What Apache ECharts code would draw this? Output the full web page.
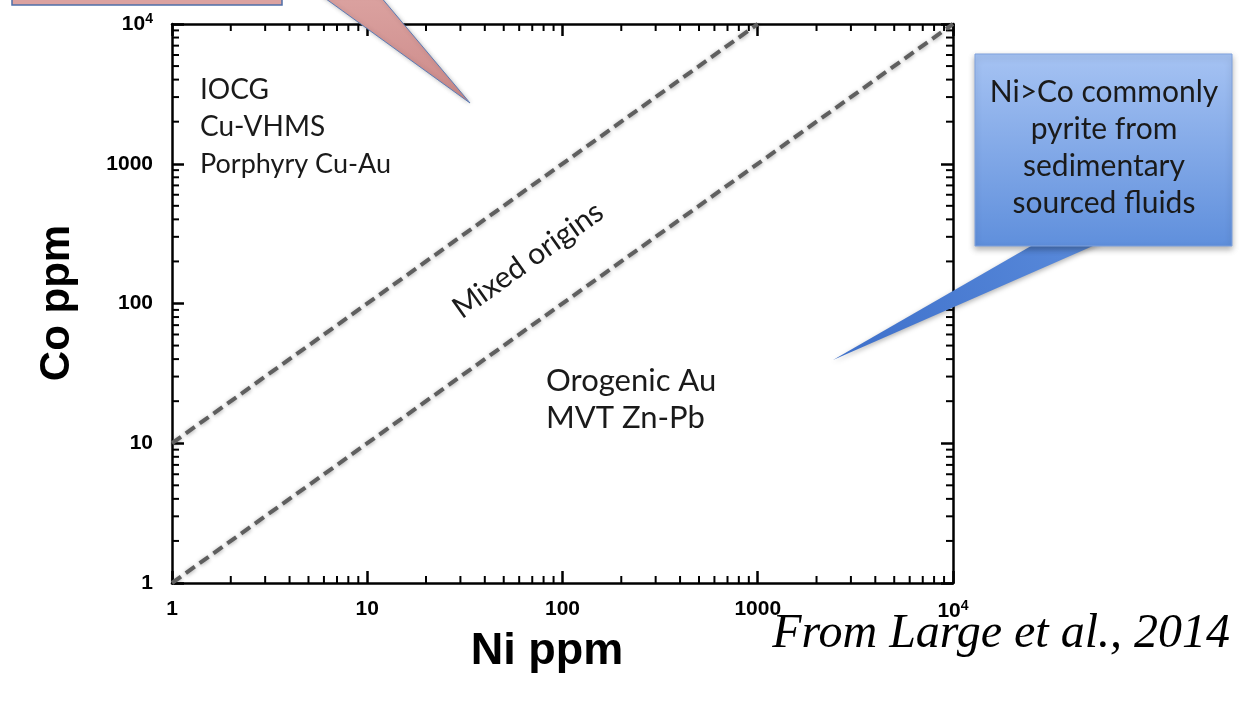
<!DOCTYPE html>
<html>
<head>
<meta charset="utf-8">
<script src="https://cdn.jsdelivr.net/npm/echarts@6/dist/echarts.min.js"></script>
<style>
  html, body { margin: 0; padding: 0; background: #fff; }
  #chart { width: 1243px; height: 703px; }
</style>
</head>
<body>
<div id="chart"></div>
<script>
// boundary lines of the Ni-Co diagram
const upperNi = [1, 1000]
const upperCo = [10, 10000]
const lowerNi = [1, 10000]
const lowerCo = [1, 10000]

// log axes: decades and the minor steps inside each decade
const decades = [1, 10, 100, 1000]
const minorSteps = [2, 3, 4, 5, 6, 7, 8, 9]
const minorTicks = []
decades.forEach(d => minorSteps.forEach(s => minorTicks.push([d * s, d * s])))

const tickFont = 'Liberation Sans, Arial, sans-serif'
const noteFont = 'Lato, Carlito, Calibri, sans-serif'

const chart = echarts.init(document.getElementById('chart'))

const labelFmt = function (v) {
  const n = Math.round(v)
  return n === 10000 ? '{n|10}{s|4}' : '{n|' + n + '}'
}
const labelRich = {
  n: { fontSize: 21, fontWeight: 'bold', fontFamily: tickFont, color: '#000' },
  s: { fontSize: 14, fontWeight: 'bold', fontFamily: tickFont, color: '#000', padding: [0, 0, 10, 0] },
}
const axisBase = {
  type: 'log',
  logBase: 10,
  min: 1,
  max: 10000,
  splitLine: { show: false },
  axisLine: { show: true, onZero: false, lineStyle: { color: '#000', width: 2.5 } },
  axisTick: { show: true, inside: true, length: 12, lineStyle: { color: '#000', width: 2.5 } },
}

const dashStyle = {
  color: '#5f5f5f',
  width: 4,
  type: [11, 6],
  shadowBlur: 4,
  shadowColor: 'rgba(0,0,0,0.35)',
  shadowOffsetY: 1,
}

chart.setOption({
  animation: false,
  backgroundColor: '#fff',
  grid: { left: 172, right: 290, top: 24, bottom: 120 },
  xAxis: [
    Object.assign({}, axisBase, {
      position: 'bottom',
      axisLabel: { margin: 16, fontSize: 21, fontWeight: 'bold', fontFamily: tickFont, color: '#000',
        formatter: labelFmt, rich: labelRich, showMinLabel: true, showMaxLabel: true },
    }),
    Object.assign({}, axisBase, { position: 'top', axisLabel: { show: false } }),
  ],
  yAxis: [
    Object.assign({}, axisBase, {
      position: 'left',
      axisLabel: { margin: 19, fontSize: 21, fontWeight: 'bold', fontFamily: tickFont, color: '#000',
        formatter: labelFmt, rich: labelRich, showMinLabel: true, showMaxLabel: true },
    }),
    Object.assign({}, axisBase, { position: 'right', axisLabel: { show: false } }),
  ],
  series: [
    {
      type: 'line',
      data: upperNi.map((x, i) => [x, upperCo[i]]),
      symbol: 'none',
      lineStyle: dashStyle,
      z: 3,
    },
    {
      type: 'line',
      data: lowerNi.map((x, i) => [x, lowerCo[i]]),
      symbol: 'none',
      lineStyle: dashStyle,
      z: 3,
    },
    {
      // minor ticks on all four sides of the frame
      type: 'custom',
      silent: true,
      clip: false,
      data: minorTicks,
      renderItem: function (params, api) {
        const v = api.value(0)
        const b = api.coord([v, 1])
        const t = api.coord([v, 10000])
        const l = api.coord([1, v])
        const r = api.coord([10000, v])
        const len = 7
        const st = { stroke: '#000', lineWidth: 2 }
        return {
          type: 'group',
          children: [
            { type: 'line', shape: { x1: b[0], y1: b[1], x2: b[0], y2: b[1] - len }, style: st },
            { type: 'line', shape: { x1: t[0], y1: t[1], x2: t[0], y2: t[1] + len }, style: st },
            { type: 'line', shape: { x1: l[0], y1: l[1], x2: l[0] + len, y2: l[1] }, style: st },
            { type: 'line', shape: { x1: r[0], y1: r[1], x2: r[0] - len, y2: r[1] }, style: st },
          ],
        }
      },
    },
  ],
  graphic: [
    // pink callout cut off at the top
    {
      type: 'polygon',
      shape: { points: [[322, -4], [380, -4], [470, 103]] },
      style: {
        fill: new echarts.graphic.LinearGradient(0, 0, 0, 1, [
          { offset: 0, color: '#dba2a0' },
          { offset: 1, color: '#cc8a89' },
        ]),
        stroke: '#5b7bb5',
        lineWidth: 1,
        shadowBlur: 4,
        shadowColor: 'rgba(0,0,0,0.25)',
      },
      z: 10,
    },
    {
      type: 'rect',
      shape: { x: 12, y: -40, width: 270, height: 45 },
      style: { fill: '#dba2a0', stroke: '#4f6fa8', lineWidth: 1.5 },
      z: 11,
    },
    // blue callout on the right
    {
      type: 'polygon',
      shape: { points: [[1038, 242], [1102, 242], [833, 360]] },
      style: {
        fill: new echarts.graphic.LinearGradient(1, 0, 0, 1, [
          { offset: 0, color: '#5a8bdb' },
          { offset: 1, color: '#3d6fca' },
        ]),
        shadowBlur: 5,
        shadowColor: 'rgba(0,0,0,0.3)',
        shadowOffsetY: 2,
      },
      z: 10,
    },
    {
      type: 'rect',
      shape: { x: 975, y: 54, width: 257, height: 192 },
      style: {
        fill: new echarts.graphic.LinearGradient(0, 0, 0, 1, [
          { offset: 0, color: '#a6c3f3' },
          { offset: 1, color: '#5f8fdc' },
        ]),
        stroke: '#7ea1dd',
        lineWidth: 1,
        shadowBlur: 6,
        shadowColor: 'rgba(0,0,0,0.3)',
        shadowOffsetY: 3,
      },
      z: 11,
    },
    {
      type: 'text',
      x: 1104,
      y: 148,
      z: 12,
      style: {
        text: 'Ni>Co commonly\npyrite from\nsedimentary\nsourced fluids',
        font: '30px ' + noteFont,
        fill: '#1a1a1a',
        align: 'center',
        verticalAlign: 'middle',
        lineHeight: 37,
      },
    },
    // field labels
    { type: 'text', x: 200, y: 90, style: { text: 'IOCG', font: '28px ' + noteFont, fill: '#1a1a1a', verticalAlign: 'middle' } },
    { type: 'text', x: 200, y: 127, style: { text: 'Cu-VHMS', font: '28px ' + noteFont, fill: '#1a1a1a', verticalAlign: 'middle' } },
    { type: 'text', x: 200, y: 164, style: { text: 'Porphyry Cu-Au', font: '27px ' + noteFont, fill: '#1a1a1a', verticalAlign: 'middle' } },
    { type: 'text', x: 546, y: 381, style: { text: 'Orogenic Au', font: '31px ' + noteFont, fill: '#1a1a1a', verticalAlign: 'middle' } },
    { type: 'text', x: 546, y: 418, style: { text: 'MVT Zn-Pb', font: '31px ' + noteFont, fill: '#1a1a1a', verticalAlign: 'middle' } },
    {
      type: 'text',
      x: 528,
      y: 260,
      rotation: 35.6 * Math.PI / 180,
      style: { text: 'Mixed origins', font: '30px ' + noteFont, fill: '#1a1a1a', align: 'center', verticalAlign: 'middle' },
    },
    // axis titles
    {
      type: 'text',
      x: 57,
      y: 303,
      rotation: Math.PI / 2,
      style: { text: 'Co ppm', font: 'bold 42px ' + tickFont, fill: '#000', align: 'center', verticalAlign: 'middle' },
    },
    {
      type: 'text',
      x: 547,
      y: 652,
      style: { text: 'Ni ppm', font: 'bold 45px ' + tickFont, fill: '#000', align: 'center', verticalAlign: 'middle' },
    },
    {
      type: 'text',
      x: 1230,
      y: 634,
      style: { text: 'From Large et al., 2014', font: 'italic 48px Liberation Serif, Times New Roman, serif', fill: '#000', align: 'right', verticalAlign: 'middle' },
    },
  ],
})
</script>
</body>
</html>
